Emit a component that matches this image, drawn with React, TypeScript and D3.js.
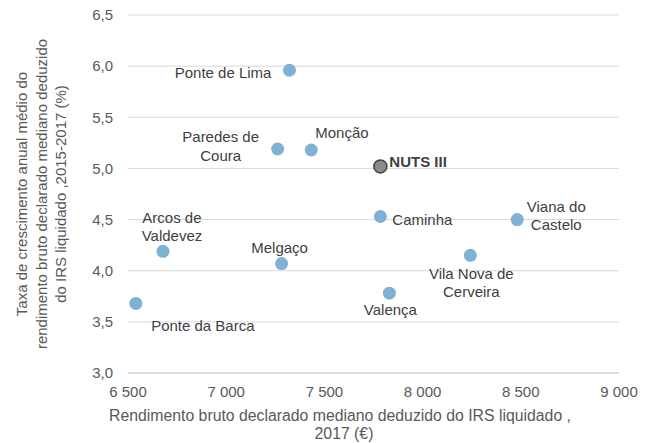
import React from "react";
import * as d3 from "d3";

const names = ["Ponte de Lima", "Paredes de Coura", "Monção", "Caminha", "Viana do Castelo", "Vila Nova de Cerveira", "Valença", "Arcos de Valdevez", "Melgaço", "Ponte da Barca"];
const incomes = [7322, 7262, 7433, 7785, 8482, 8243, 7831, 6678, 7282, 6540];
const growth = [5.96, 5.19, 5.18, 4.53, 4.50, 4.15, 3.78, 4.19, 4.07, 3.68];
const nuts = { name: "NUTS III", income: 7785, growth: 5.02 };
const xTicks = [6500, 7000, 7500, 8000, 8500, 9000];
const yTicks = [3.0, 3.5, 4.0, 4.5, 5.0, 5.5, 6.0, 6.5];

// label layout: lines, dx, dy (relative to point), anchor
const labelLayout: Record<string, { lines: string[]; dx: number; dy: number; anchor: string }> = {
  "Ponte de Lima": { lines: ["Ponte de Lima"], dx: -18, dy: 3, anchor: "end" },
  "Paredes de Coura": { lines: ["Paredes de", "Coura"], dx: -57, dy: -12, anchor: "middle" },
  "Monção": { lines: ["Monção"], dx: 4, dy: -17, anchor: "start" },
  "Caminha": { lines: ["Caminha"], dx: 12, dy: 3, anchor: "start" },
  "Viana do Castelo": { lines: ["Viana do", "Castelo"], dx: 39, dy: -13, anchor: "middle" },
  "Vila Nova de Cerveira": { lines: ["Vila Nova de", "Cerveira"], dx: 1, dy: 18, anchor: "middle" },
  "Valença": { lines: ["Valença"], dx: 1, dy: 17, anchor: "middle" },
  "Arcos de Valdevez": { lines: ["Arcos de", "Valdevez"], dx: 9, dy: -34, anchor: "middle" },
  "Melgaço": { lines: ["Melgaço"], dx: -2, dy: -16, anchor: "middle" },
  "Ponte da Barca": { lines: ["Ponte da Barca"], dx: 67, dy: 22, anchor: "middle" },
};

const W = 646, H = 443;
const font = "'Liberation Sans', Arial, sans-serif";

export default function App() {
  const x = d3.scaleLinear().domain([6500, 9000]).range([128, 619]);
  const y = d3.scaleLinear().domain([3.0, 6.5]).range([373, 15]);
  const fmtX = (v: number) => d3.format(",")(v).replace(",", " ");
  const fmtY = (v: number) => v.toFixed(1).replace(".", ",");
  const midY = (y(3.0) + y(6.5)) / 2;
  return (
    <svg width={W} height={H} style={{ position: "absolute", left: 0, top: 0, fontFamily: font }}>
      <rect width={W} height={H} fill="#fff" />
      {yTicks.map((t) => (
        <g key={t}>
          <line x1={x(6500)} x2={x(9000)} y1={y(t)} y2={y(t)} stroke={t === 3.0 ? "#bfbfbf" : "#d9d9d9"} strokeWidth={1} />
          <text x={113} y={y(t)} dy="0.35em" textAnchor="end" fontSize={15} fill="#595959">{fmtY(t)}</text>
        </g>
      ))}
      {xTicks.map((t) => (
        <text key={t} x={x(t)} y={392} dy="0.35em" textAnchor="middle" fontSize={15} fill="#595959">{fmtX(t)}</text>
      ))}
      <text x={340} y={415} dy="0.35em" textAnchor="middle" fontSize={15.8} fill="#595959">Rendimento bruto declarado mediano deduzido do IRS liquidado ,</text>
      <text x={344} y={433} dy="0.35em" textAnchor="middle" fontSize={15.8} fill="#595959">2017 (€)</text>
      <g transform={`translate(0, ${midY}) rotate(-90)`} fontSize={15} fill="#595959" textAnchor="middle">
        <text x={0} y={22} dy="0.35em">Taxa de crescimento anual médio do</text>
        <text x={0} y={41.5} dy="0.35em">rendimento bruto declarado mediano deduzido</text>
        <text x={0} y={61} dy="0.35em">do IRS liquidado ,2015-2017 (%)</text>
      </g>
      {names.map((n, i) => {
        const cx = x(incomes[i]);
        const cy = y(growth[i]);
        const l = labelLayout[n];
        return (
          <g key={n}>
            <circle cx={cx} cy={cy} r={6.5} fill="#7fb1d5" />
            <text x={cx + l.dx} y={cy + l.dy} textAnchor={l.anchor} fontSize={15} fill="#404040">
              {l.lines.map((line, k) => (
                <tspan key={k} x={cx + l.dx} dy={k === 0 ? "0.35em" : 18.5}>{line}</tspan>
              ))}
            </text>
          </g>
        );
      })}
      <circle cx={x(nuts.income)} cy={y(nuts.growth)} r={6.5} fill="#8c8c8c" stroke="#404040" strokeWidth={1.5} />
      <text x={x(nuts.income) + 9} y={y(nuts.growth) - 4.5} dy="0.35em" fontSize={15} fontWeight="bold" fill="#404040">{nuts.name}</text>
    </svg>
  );
}
